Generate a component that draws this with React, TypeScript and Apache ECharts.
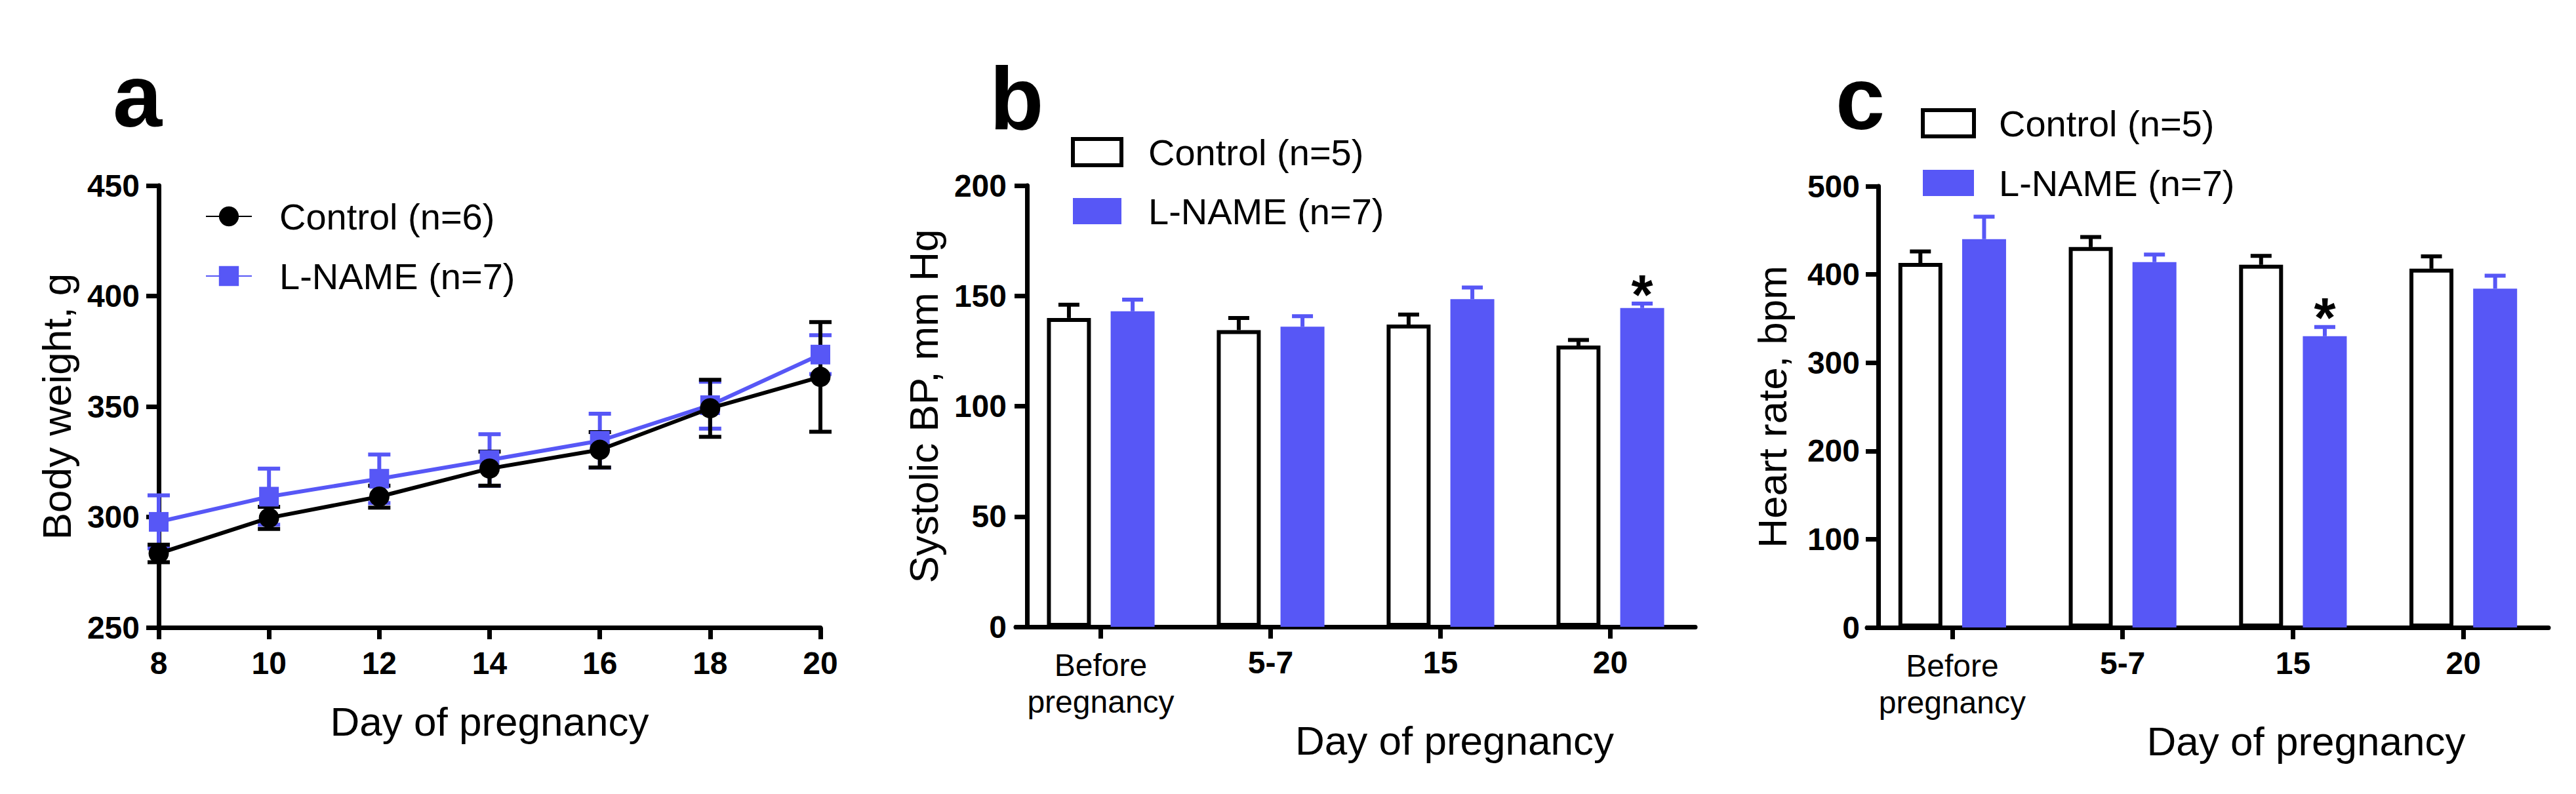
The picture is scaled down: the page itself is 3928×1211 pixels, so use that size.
import React, { useEffect, useRef } from "react";
import * as echarts from "echarts";

// ---------- DATA ----------
const daysA = [8, 10, 12, 14, 16, 18, 20];
const controlA = [283.5, 299.6, 309.2, 321.9, 330.4, 349.2, 363.4];
const controlAErr = [4, 5, 5, 7.7, 8, 12.9, 24.8];
const lnameA = [297.8, 309.2, 317.3, 325.8, 334.5, 350.6, 373.5];
const lnameAErr = [12, 12.7, 11, 11.7, 12.2, 10.6, 8.8];

const categories = ["Before\npregnancy", "5-7", "15", "20"];

const controlB = [140, 134.5, 137, 127.5];
const controlBErr = [6, 5.5, 4.5, 2.5];
const lnameB = [143, 136, 148.5, 144.5];
const lnameBErr = [5.3, 4.8, 5.3, 2];
const sigB = [0, 0, 0, 1];

const controlC = [413, 431, 411, 406.5];
const controlCErr = [13, 11.5, 10, 14];
const lnameC = [440, 414, 330, 384];
const lnameCErr = [25.5, 8.5, 10.5, 14.5];
const sigC = [0, 0, 1, 0];

const yTicksA = { min: 250, max: 450, interval: 50 };
const yTicksB = { min: 0, max: 200, interval: 50 };
const yTicksC = { min: 0, max: 500, interval: 100 };

// ---------- STYLE ----------
const FONT = '"Liberation Sans", Arial, Helvetica, sans-serif';
const BLUE = "#5757F6";
const AXIS_W = 7;
const ERR_W = 6;
const BAR_W = 67;
const BAR_GAP = 0.45;
const BAR_OFF = (BAR_W * (1 + BAR_GAP)) / 2;

function axisLineStyle() {
  return { show: true, lineStyle: { color: "#000", width: AXIS_W } };
}
function axisTickStyle(len: number, align = false) {
  return { show: true, length: len, alignWithLabel: align, lineStyle: { color: "#000", width: AXIS_W } };
}
const numLabel = { fontSize: 48, fontWeight: "bold", color: "#000", fontFamily: FONT };
const nameStyle = { fontSize: 62, color: "#000", fontFamily: FONT };

function errSeriesA(name: string, xs: number[], ys: number[], es: number[], color: string, idx: number) {
  return {
    type: "custom",
    name,
    xAxisIndex: idx,
    yAxisIndex: idx,
    silent: true,
    z: 2,
    data: xs.map((x, i) => [x, ys[i], es[i]]),
    encode: { x: 0, y: 1 },
    renderItem: (params: any, api: any) => {
      const x = api.value(0);
      const y = api.value(1);
      const e = api.value(2);
      const top = api.coord([x, y + e]);
      const bot = api.coord([x, y - e]);
      const half = 17;
      const st = { stroke: color, lineWidth: ERR_W };
      return {
        type: "group",
        children: [
          { type: "line", shape: { x1: top[0], y1: top[1], x2: bot[0], y2: bot[1] }, style: st },
          { type: "line", shape: { x1: top[0] - half, y1: top[1], x2: top[0] + half, y2: top[1] }, style: st },
          { type: "line", shape: { x1: bot[0] - half, y1: bot[1], x2: bot[0] + half, y2: bot[1] }, style: st },
        ],
      };
    },
  };
}

function errSeriesBar(name: string, ys: number[], es: number[], sig: number[], color: string, idx: number, side: number) {
  return {
    type: "custom",
    name,
    xAxisIndex: idx,
    yAxisIndex: idx,
    silent: true,
    z: 3,
    data: ys.map((y, i) => [i, y, es[i], sig[i]]),
    encode: { x: 0, y: 1 },
    renderItem: (params: any, api: any) => {
      const c = api.value(0);
      const y = api.value(1);
      const e = api.value(2);
      const s = api.value(3);
      const base = api.coord([c, y]);
      const top = api.coord([c, y + e]);
      const cx = base[0] + side * BAR_OFF;
      const half = 16;
      const st = { stroke: color, lineWidth: ERR_W };
      const children: any[] = [
        { type: "line", shape: { x1: cx, y1: base[1], x2: cx, y2: top[1] }, style: st },
        { type: "line", shape: { x1: cx - half, y1: top[1], x2: cx + half, y2: top[1] }, style: st },
      ];
      if (s) {
        children.push({
          type: "text",
          x: cx,
          y: top[1] - 14,
          style: {
            text: "*",
            fontSize: 85,
            fontWeight: "bold",
            fontFamily: FONT,
            fill: "#000",
            align: "center",
            verticalAlign: "middle",
          },
        });
      }
      return { type: "group", children };
    },
  };
}

function catLabelFormatter(v: string) {
  if (v.indexOf("\n") >= 0) {
    return v
      .split("\n")
      .map((s) => `{r|${s}}`)
      .join("\n");
  }
  return `{bd|${v}}`;
}

const catRich = {
  r: { fontSize: 48, fontWeight: "normal", lineHeight: 56, color: "#000", fontFamily: FONT },
  bd: { fontSize: 48, fontWeight: "bold", lineHeight: 48, color: "#000", fontFamily: FONT },
};

function buildOption(): any {
  const legendText = (pad: number) => ({
    fontSize: 56,
    color: "#000",
    fontFamily: FONT,
    lineHeight: 60,
    padding: [0, 0, 0, pad],
  });
  return {
    animation: false,
    backgroundColor: "#fff",
    graphic: [
      { type: "text", x: 172, y: 146, style: { text: "a", fontSize: 135, fontWeight: "bold", fontFamily: FONT, fill: "#000", verticalAlign: "middle" } },
      { type: "text", x: 1509, y: 150, style: { text: "b", fontSize: 135, fontWeight: "bold", fontFamily: FONT, fill: "#000", verticalAlign: "middle" } },
      { type: "text", x: 2799, y: 150, style: { text: "c", fontSize: 135, fontWeight: "bold", fontFamily: FONT, fill: "#000", verticalAlign: "middle" } },
    ],
    legend: [
      {
        data: ["a:Control (n=6)", "a:L-NAME (n=7)"],
        orient: "vertical",
        left: 313,
        top: 300,
        padding: 0,
        itemWidth: 70,
        itemHeight: 38,
        itemGap: 31,
        selectedMode: false,
        formatter: (n: string) => n.slice(2),
        textStyle: legendText(37),
      },
      {
        data: [
          { name: "b:Control (n=5)", icon: "rect", itemStyle: { color: "#fff", borderColor: "#000", borderWidth: 6 } },
          { name: "b:L-NAME (n=7)", icon: "rect", itemStyle: { color: BLUE, borderWidth: 0 } },
        ],
        orient: "vertical",
        left: 1633,
        top: 202,
        padding: 0,
        itemWidth: 74,
        itemHeight: 40,
        itemGap: 30,
        selectedMode: false,
        formatter: (n: string) => n.slice(2),
        textStyle: legendText(36),
      },
      {
        data: [
          { name: "c:Control (n=5)", icon: "rect", itemStyle: { color: "#fff", borderColor: "#000", borderWidth: 6 } },
          { name: "c:L-NAME (n=7)", icon: "rect", itemStyle: { color: BLUE, borderWidth: 0 } },
        ],
        orient: "vertical",
        left: 2929,
        top: 158,
        padding: 0,
        itemWidth: 78,
        itemHeight: 40,
        itemGap: 31,
        selectedMode: false,
        formatter: (n: string) => n.slice(2),
        textStyle: legendText(33),
      },
    ],
    grid: [
      { left: 242, top: 283, width: 1009, height: 674 },
      { left: 1549, top: 283, width: 1036, height: 673 },
      { left: 2847, top: 284, width: 1039, height: 673 },
    ],
    xAxis: [
      {
        gridIndex: 0,
        type: "value",
        min: 8,
        max: 20,
        interval: 2,
        axisLine: axisLineStyle(),
        axisTick: axisTickStyle(18),
        splitLine: { show: false },
        axisLabel: { ...numLabel, margin: 30 },
        name: "Day of pregnancy",
        nameLocation: "middle",
        nameGap: 112,
        nameTextStyle: nameStyle,
      },
      {
        gridIndex: 1,
        type: "category",
        data: categories,
        axisLine: axisLineStyle(),
        axisTick: axisTickStyle(18, true),
        axisLabel: { interval: 0, margin: 30, formatter: catLabelFormatter, rich: catRich },
        name: "Day of pregnancy",
        nameLocation: "middle",
        nameGap: 114,
        nameTextStyle: { ...nameStyle, padding: [0, 0, 0, 302] },
      },
      {
        gridIndex: 2,
        type: "category",
        data: categories,
        axisLine: axisLineStyle(),
        axisTick: axisTickStyle(18, true),
        axisLabel: { interval: 0, margin: 30, formatter: catLabelFormatter, rich: catRich },
        name: "Day of pregnancy",
        nameLocation: "middle",
        nameGap: 114,
        nameTextStyle: { ...nameStyle, padding: [0, 0, 0, 300] },
      },
    ],
    yAxis: [
      {
        gridIndex: 0,
        type: "value",
        ...yTicksA,
        axisLine: axisLineStyle(),
        axisTick: axisTickStyle(19),
        splitLine: { show: false },
        axisLabel: { ...numLabel, margin: 29 },
        name: "Body weight, g",
        nameLocation: "middle",
        nameRotate: 90,
        nameGap: 125,
        nameTextStyle: nameStyle,
      },
      {
        gridIndex: 1,
        type: "value",
        ...yTicksB,
        offset: -17,
        axisLine: axisLineStyle(),
        axisTick: axisTickStyle(19),
        splitLine: { show: false },
        axisLabel: { ...numLabel, margin: 31 },
        name: "Systolic BP, mm Hg",
        nameLocation: "middle",
        nameRotate: 90,
        nameGap: 127,
        nameTextStyle: nameStyle,
      },
      {
        gridIndex: 2,
        type: "value",
        ...yTicksC,
        offset: -17,
        axisLine: axisLineStyle(),
        axisTick: axisTickStyle(19),
        splitLine: { show: false },
        axisLabel: { ...numLabel, margin: 28 },
        name: "Heart rate, bpm",
        nameLocation: "middle",
        nameRotate: 90,
        nameGap: 131,
        nameTextStyle: nameStyle,
      },
    ],
    series: [
      errSeriesA("errA-lname", daysA, lnameA, lnameAErr, BLUE, 0),
      {
        type: "line",
        name: "a:L-NAME (n=7)",
        xAxisIndex: 0,
        yAxisIndex: 0,
        z: 3,
        data: daysA.map((d, i) => [d, lnameA[i]]),
        symbol: "rect",
        symbolSize: 30,
        lineStyle: { color: BLUE, width: 6 },
        itemStyle: { color: BLUE },
      },
      errSeriesA("errA-control", daysA, controlA, controlAErr, "#000", 0),
      {
        type: "line",
        name: "a:Control (n=6)",
        xAxisIndex: 0,
        yAxisIndex: 0,
        z: 4,
        data: daysA.map((d, i) => [d, controlA[i]]),
        symbol: "circle",
        symbolSize: 31,
        lineStyle: { color: "#000", width: 6 },
        itemStyle: { color: "#000" },
      },
      {
        type: "bar",
        name: "b:Control (n=5)",
        xAxisIndex: 1,
        yAxisIndex: 1,
        data: controlB,
        barWidth: BAR_W,
        barGap: BAR_GAP * 100 + "%",
        itemStyle: { color: "#fff", borderColor: "#000", borderWidth: 6 },
      },
      {
        type: "bar",
        name: "b:L-NAME (n=7)",
        xAxisIndex: 1,
        yAxisIndex: 1,
        data: lnameB,
        barWidth: BAR_W,
        barGap: BAR_GAP * 100 + "%",
        itemStyle: { color: BLUE },
      },
      errSeriesBar("errB-control", controlB, controlBErr, [0, 0, 0, 0], "#000", 1, -1),
      errSeriesBar("errB-lname", lnameB, lnameBErr, sigB, BLUE, 1, 1),
      {
        type: "bar",
        name: "c:Control (n=5)",
        xAxisIndex: 2,
        yAxisIndex: 2,
        data: controlC,
        barWidth: BAR_W,
        barGap: BAR_GAP * 100 + "%",
        itemStyle: { color: "#fff", borderColor: "#000", borderWidth: 6 },
      },
      {
        type: "bar",
        name: "c:L-NAME (n=7)",
        xAxisIndex: 2,
        yAxisIndex: 2,
        data: lnameC,
        barWidth: BAR_W,
        barGap: BAR_GAP * 100 + "%",
        itemStyle: { color: BLUE },
      },
      errSeriesBar("errC-control", controlC, controlCErr, [0, 0, 0, 0], "#000", 2, -1),
      errSeriesBar("errC-lname", lnameC, lnameCErr, sigC, BLUE, 2, 1),
    ],
  };
}

export default function App() {
  const ref = useRef<HTMLDivElement>(null);
  useEffect(() => {
    if (!ref.current) return;
    const chart = echarts.init(ref.current, undefined, { renderer: "svg" });
    chart.setOption(buildOption());
    return () => chart.dispose();
  }, []);
  return (
    <div
      ref={ref}
      style={{ position: "absolute", left: 0, top: 0, width: 3928, height: 1211, background: "#fff" }}
    />
  );
}
